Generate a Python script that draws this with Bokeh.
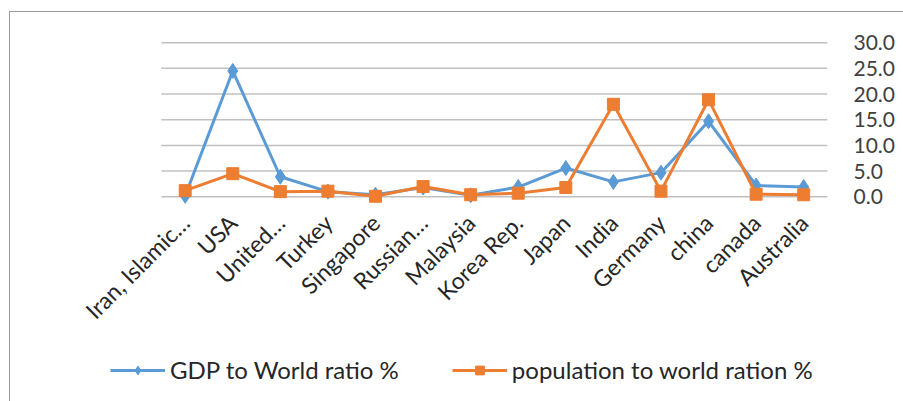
import math
from bokeh.plotting import figure
from bokeh.layouts import column
from bokeh.models import (Range1d, Legend, LegendItem, FixedTicker, NumeralTickFormatter)
from bokeh.embed import file_html
from bokeh.resources import INLINE

countries = ["Iran, Islamic…", "USA", "United…", "Turkey", "Singapore", "Russian…",
             "Malaysia", "Korea Rep.", "Japan", "India", "Germany", "china", "canada", "Australia"]
gdp = [0.2, 24.5, 3.9, 1.0, 0.4, 1.8, 0.3, 1.9, 5.6, 2.9, 4.7, 14.7, 2.2, 1.9]
population = [1.2, 4.5, 1.0, 1.1, 0.1, 2.0, 0.4, 0.7, 1.8, 18.0, 1.1, 18.9, 0.5, 0.4]
y_ticks = [0, 5, 10, 15, 20, 25, 30]
series_names = ["GDP to World ratio %", "population to world ration %"]

BLUE = "#5b9bd5"
ORANGE = "#ed7d31"
FONT = "Lato"

n = len(countries)
xs = list(range(n))

# main chart (category i sits at x = i; extra room on the left for the long label / legend)
p = figure(x_range=Range1d(-1.78, n - 0.5), y_range=Range1d(-1.5, 31.2),
           y_axis_location="right",
           width=893, height=330, output_backend="svg", toolbar_location=None,
           min_border_left=90, min_border_right=76, min_border_top=24, min_border_bottom=138)
p.outline_line_color = None
p.background_fill_color = "white"
p.border_fill_color = "white"

yax = p.yaxis[0]
yax.ticker = FixedTicker(ticks=y_ticks)
yax.formatter = NumeralTickFormatter(format="0.0")
yax.axis_line_color = None
yax.major_tick_line_color = None
yax.minor_tick_line_color = None
yax.major_label_text_font = FONT
yax.major_label_text_font_size = "21px"
yax.major_label_text_color = "#404040"
yax.major_label_standoff = 20

p.xgrid.visible = False
p.ygrid.visible = False
# horizontal gridlines spanning only the category area
p.segment(x0=[-0.5] * len(y_ticks), x1=[n - 0.5] * len(y_ticks), y0=y_ticks, y1=y_ticks,
          line_color="#c0c0c0", line_width=1.5)

xa = p.xaxis[0]
xa.ticker = FixedTicker(ticks=xs)
xa.major_label_overrides = {i: c for i, c in zip(xs, countries)}
xa.axis_line_color = None
xa.major_tick_line_color = None
xa.minor_tick_line_color = None
xa.major_label_orientation = math.pi / 4
xa.major_label_text_font = FONT
xa.major_label_text_font_size = "23px"
xa.major_label_text_color = "#262626"
xa.major_label_standoff = 8

p.line(xs, gdp, color=BLUE, line_width=3)
p.scatter(xs, gdp, marker="diamond", size=15, color=BLUE)
p.line(xs, population, color=ORANGE, line_width=3)
p.scatter(xs, population, marker="square", size=12, color=ORANGE)

# legend strip (frame aligned with the main chart's frame)
q = figure(width=893, height=59, output_backend="svg", toolbar_location=None,
           x_range=Range1d(0, 1), y_range=Range1d(0, 1),
           min_border_left=0, min_border_right=0, min_border_top=0, min_border_bottom=0)
q.axis.visible = False
q.grid.visible = False
q.outline_line_color = None
q.background_fill_color = "white"
q.border_fill_color = "white"
ql1 = q.line([-10, -9], [-10, -10], color=BLUE, line_width=3)
qs1 = q.scatter([-10], [-10], marker="diamond", size=12, color=BLUE)
ql2 = q.line([-10, -9], [-10, -10], color=ORANGE, line_width=3)
qs2 = q.scatter([-10], [-10], marker="square", size=10, color=ORANGE)
legend = Legend(items=[LegendItem(label=series_names[0], renderers=[ql1, qs1]),
                       LegendItem(label=series_names[1], renderers=[ql2, qs2])],
                location=(10, 17), orientation="horizontal")
legend.border_line_color = None
legend.background_fill_alpha = 0
legend.label_text_font = FONT
legend.label_text_font_size = "24px"
legend.label_text_color = "#262626"
legend.glyph_width = 55
legend.glyph_height = 22
legend.padding = 0
legend.margin = 0
legend.spacing = 53
legend.label_standoff = 5
q.add_layout(legend, "center")

layout = column(p, q, spacing=0)
layout.margin = (11, 0, 0, 9)
layout.stylesheets = [":host { border-top: 1px solid #9a9a9a; border-left: 1px solid #9a9a9a; }"]

open("out.html", "w").write(file_html(layout, INLINE))
